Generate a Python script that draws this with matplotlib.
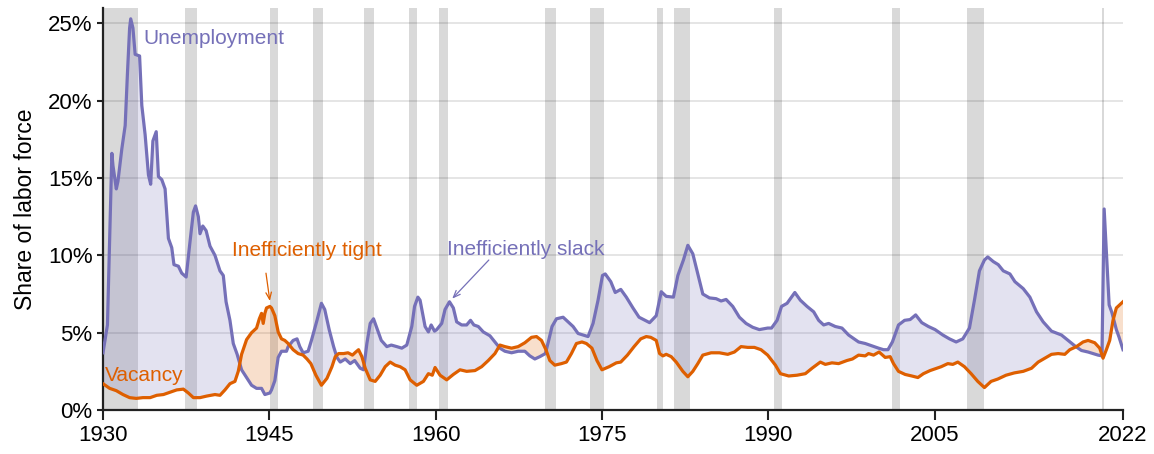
import numpy as np
import matplotlib
matplotlib.use("Agg")
import matplotlib.pyplot as plt

# unemployment rate, % of labor force (year, value)
unemployment = [
    (1930.0, 3.7), (1930.4, 5.5), (1930.8, 16.6), (1930.9, 15.8), (1931.2, 14.3), (1931.35, 14.8),
    (1931.7, 16.9), (1932.0, 18.4), (1932.2, 21.7), (1932.4, 24.7), (1932.5, 25.3), (1932.7, 24.7),
    (1932.9, 23.0), (1933.3, 22.9), (1933.5, 19.7), (1933.8, 17.8), (1934.1, 15.2), (1934.3, 14.6),
    (1934.5, 17.4), (1934.8, 18.0), (1935.0, 15.1), (1935.3, 14.9), (1935.6, 14.3), (1935.9, 11.1),
    (1936.2, 10.5), (1936.4, 9.4), (1936.8, 9.3), (1937.1, 8.85), (1937.5, 8.6), (1937.85, 10.9),
    (1938.15, 12.8), (1938.35, 13.2), (1938.6, 12.5), (1938.75, 11.4), (1939.0, 11.9), (1939.3, 11.6),
    (1939.65, 10.6), (1940.1, 10.0), (1940.55, 9.0), (1940.85, 8.7), (1941.1, 7.0), (1941.45, 5.8),
    (1941.75, 4.3), (1942.1, 3.6), (1942.5, 2.6), (1942.95, 2.1), (1943.4, 1.6), (1943.85, 1.4),
    (1944.3, 1.4), (1944.6, 1.0), (1945.05, 1.1), (1945.2, 1.3), (1945.5, 1.9), (1945.8, 3.4),
    (1946.1, 3.8), (1946.55, 3.8), (1946.7, 4.1), (1947.15, 4.5), (1947.5, 4.6), (1947.75, 4.1),
    (1948.05, 3.7), (1948.5, 3.8), (1948.8, 4.5), (1949.3, 5.8), (1949.7, 6.9), (1950.0, 6.5),
    (1950.4, 5.2), (1950.8, 4.1), (1951.1, 3.4), (1951.4, 3.1), (1951.85, 3.3), (1952.3, 3.0),
    (1952.7, 3.2), (1953.2, 2.7), (1953.5, 2.6), (1953.8, 4.3), (1954.1, 5.6), (1954.4, 5.9),
    (1954.7, 5.3), (1955.1, 4.5), (1955.6, 4.1), (1956.0, 4.2), (1956.5, 4.1), (1956.95, 4.0),
    (1957.4, 4.2), (1957.85, 5.4), (1958.1, 6.7), (1958.4, 7.3), (1958.6, 7.1), (1959.05, 5.4),
    (1959.35, 5.05), (1959.6, 5.5), (1959.9, 5.1), (1960.1, 5.2), (1960.55, 5.6), (1960.85, 6.5),
    (1961.25, 7.0), (1961.6, 6.6), (1961.9, 5.7), (1962.35, 5.5), (1962.8, 5.5), (1963.15, 5.8),
    (1963.45, 5.5), (1963.85, 5.4), (1964.3, 5.05), (1964.9, 4.8), (1965.35, 4.4), (1965.8, 4.0),
    (1966.25, 3.8), (1966.85, 3.7), (1967.45, 3.8), (1968.05, 3.8), (1968.5, 3.5), (1968.95, 3.3),
    (1969.4, 3.45), (1969.9, 3.65), (1970.2, 4.5), (1970.5, 5.4), (1970.9, 5.9), (1971.5, 6.0),
    (1971.95, 5.7), (1972.4, 5.4), (1972.85, 4.95), (1973.3, 4.85), (1973.75, 4.75), (1974.2, 5.6),
    (1974.65, 7.1), (1975.05, 8.7), (1975.3, 8.8), (1975.8, 8.3), (1976.2, 7.6), (1976.7, 7.8),
    (1977.2, 7.3), (1977.8, 6.6), (1978.35, 6.0), (1979.3, 5.65), (1979.9, 6.1), (1980.35, 7.65),
    (1980.8, 7.35), (1981.45, 7.3), (1981.85, 8.7), (1982.35, 9.7), (1982.75, 10.65), (1983.2, 10.1),
    (1983.65, 8.8), (1984.1, 7.5), (1984.7, 7.25), (1985.3, 7.2), (1985.75, 7.05), (1986.2, 7.15),
    (1986.8, 6.7), (1987.4, 6.0), (1988.0, 5.6), (1988.6, 5.35), (1989.2, 5.2), (1989.95, 5.3),
    (1990.3, 5.3), (1990.8, 5.8), (1991.2, 6.7), (1991.7, 6.9), (1992.4, 7.6), (1992.9, 7.1),
    (1993.5, 6.7), (1994.1, 6.35), (1994.55, 5.8), (1995.0, 5.5), (1995.45, 5.6), (1996.05, 5.4),
    (1996.65, 5.3), (1997.25, 4.85), (1998.15, 4.4), (1998.75, 4.3), (1999.35, 4.15), (1999.95, 4.0),
    (2000.4, 3.9), (2000.8, 3.9), (2001.2, 4.4), (2001.75, 5.5), (2002.3, 5.8), (2002.8, 5.85),
    (2003.3, 6.15), (2003.85, 5.65), (2004.45, 5.4), (2005.05, 5.2), (2005.75, 4.85), (2006.35, 4.6),
    (2006.95, 4.4), (2007.55, 4.6), (2008.15, 5.3), (2008.6, 7.1), (2009.05, 9.0), (2009.5, 9.7),
    (2009.8, 9.9), (2010.3, 9.6), (2010.75, 9.4), (2011.2, 9.0), (2011.8, 8.8), (2012.25, 8.3),
    (2013.0, 7.85), (2013.6, 7.3), (2014.2, 6.35), (2014.8, 5.7), (2015.55, 5.1), (2016.45, 4.85),
    (2017.05, 4.5), (2017.65, 4.15), (2018.25, 3.85), (2018.85, 3.75), (2019.3, 3.65), (2019.75, 3.55),
    (2020.1, 3.5), (2020.3, 13.0), (2020.75, 6.8), (2021.0, 6.3), (2021.4, 5.2), (2021.65, 4.7),
    (2022.0, 3.9),
]

# job vacancy rate, % of labor force (year, value)
vacancy = [
    (1930.0, 1.7), (1930.6, 1.4), (1931.2, 1.25), (1931.8, 1.0), (1932.4, 0.8), (1933.0, 0.75),
    (1933.6, 0.8), (1934.25, 0.8), (1934.85, 0.95), (1935.45, 1.0), (1936.05, 1.15), (1936.65, 1.3),
    (1937.25, 1.35), (1937.7, 1.1), (1938.15, 0.8), (1938.75, 0.8), (1939.35, 0.9), (1940.1, 1.0),
    (1940.55, 0.95), (1941.0, 1.3), (1941.45, 1.7), (1941.9, 1.85), (1942.2, 2.5), (1942.5, 3.6),
    (1942.95, 4.55), (1943.4, 5.0), (1943.85, 5.3), (1944.1, 5.9), (1944.3, 6.25), (1944.45, 5.6),
    (1944.6, 6.25), (1944.75, 6.6), (1945.05, 6.7), (1945.2, 6.6), (1945.5, 6.1), (1945.8, 5.05),
    (1946.1, 4.6), (1946.4, 4.5), (1946.7, 4.3), (1947.15, 3.9), (1947.6, 3.65), (1948.05, 3.55),
    (1948.4, 3.3), (1948.75, 3.0), (1949.2, 2.25), (1949.7, 1.6), (1950.2, 2.05), (1950.65, 2.8),
    (1950.95, 3.45), (1951.25, 3.65), (1951.7, 3.65), (1952.1, 3.7), (1952.5, 3.55), (1952.8, 3.75),
    (1953.05, 3.9), (1953.35, 3.45), (1953.65, 2.7), (1954.1, 1.95), (1954.55, 1.85), (1955.0, 2.25),
    (1955.45, 2.8), (1955.9, 3.1), (1956.35, 2.9), (1956.8, 2.8), (1957.25, 2.6), (1957.7, 1.95),
    (1958.3, 1.6), (1958.9, 1.85), (1959.35, 2.35), (1959.7, 2.25), (1959.95, 2.75), (1960.4, 2.25),
    (1961.0, 1.95), (1961.6, 2.3), (1962.2, 2.6), (1962.8, 2.5), (1963.55, 2.55), (1964.15, 2.8),
    (1964.75, 3.2), (1965.35, 3.65), (1965.8, 4.2), (1966.25, 4.1), (1966.85, 4.0), (1967.45, 4.1),
    (1968.05, 4.35), (1968.65, 4.7), (1969.1, 4.75), (1969.55, 4.5), (1969.95, 3.9), (1970.3, 3.2),
    (1970.75, 2.9), (1971.35, 3.0), (1971.8, 3.1), (1972.25, 3.65), (1972.7, 4.3), (1973.2, 4.4),
    (1973.6, 4.3), (1974.1, 4.0), (1974.55, 3.2), (1975.0, 2.6), (1975.65, 2.8), (1976.3, 3.05),
    (1976.7, 3.1), (1977.3, 3.55), (1977.9, 4.1), (1978.5, 4.6), (1979.0, 4.75), (1979.4, 4.7),
    (1979.9, 4.5), (1980.2, 3.65), (1980.5, 3.5), (1980.8, 3.6), (1981.25, 3.45), (1981.7, 3.1),
    (1982.3, 2.5), (1982.75, 2.15), (1983.2, 2.5), (1983.65, 3.0), (1984.1, 3.55), (1984.85, 3.7),
    (1985.6, 3.7), (1986.35, 3.6), (1986.95, 3.75), (1987.55, 4.1), (1988.15, 4.05), (1988.75, 4.05),
    (1989.35, 3.9), (1989.95, 3.55), (1990.65, 2.9), (1991.1, 2.35), (1991.85, 2.2), (1992.6, 2.25),
    (1993.35, 2.35), (1993.95, 2.7), (1994.7, 3.1), (1995.15, 2.95), (1995.75, 3.05), (1996.35, 3.0),
    (1997.1, 3.2), (1997.6, 3.3), (1998.15, 3.55), (1998.75, 3.5), (1999.05, 3.65), (1999.5, 3.55),
    (2000.0, 3.75), (2000.55, 3.4), (2001.0, 3.45), (2001.3, 3.0), (2001.75, 2.5), (2002.35, 2.3),
    (2002.95, 2.2), (2003.5, 2.1), (2004.0, 2.35), (2004.6, 2.55), (2005.2, 2.7), (2005.6, 2.8),
    (2006.2, 3.0), (2006.65, 2.95), (2007.1, 3.1), (2007.7, 2.8), (2008.3, 2.35), (2008.9, 1.85),
    (2009.5, 1.45), (2010.1, 1.85), (2010.7, 2.0), (2011.45, 2.25), (2012.2, 2.4), (2013.0, 2.5),
    (2013.75, 2.7), (2014.35, 3.1), (2014.95, 3.35), (2015.55, 3.6), (2016.15, 3.65), (2016.75, 3.6),
    (2017.2, 3.9), (2017.8, 4.1), (2018.4, 4.4), (2018.85, 4.5), (2019.45, 4.35), (2019.9, 4.0),
    (2020.2, 3.35), (2020.5, 3.9), (2020.8, 4.5), (2021.1, 5.8), (2021.4, 6.6), (2021.85, 6.9),
    (2022.0, 7.0),
]

# NBER recessions (start, end)
recessions = [
    (1929.67, 1933.2), (1937.4, 1938.45), (1945.1, 1945.8), (1948.9, 1949.8), (1953.5, 1954.4),
    (1957.6, 1958.3), (1960.3, 1961.1), (1969.9, 1970.9), (1973.9, 1975.2), (1980.0, 1980.5),
    (1981.5, 1982.9), (1990.5, 1991.2), (2001.2, 2001.9), (2007.9, 2009.5), (2020.1, 2020.3),
]

x_ticks = [1930, 1945, 1960, 1975, 1990, 2005, 2022]
y_ticks = [0, 5, 10, 15, 20, 25]

purple = "#7570b8"
orange = "#de5f00"

plt.rcParams['font.family'] = ['Liberation Sans', 'DejaVu Sans']

u_year, u_val = np.array(unemployment).T
v_year, v_val = np.array(vacancy).T

fig = plt.figure(figsize=(11.54, 4.54), dpi=100)
ax = fig.add_axes([103 / 1154, 44 / 454, 1020 / 1154, 402 / 454])

for start, end in recessions:
    ax.axvspan(start, end, color="#d9d9d9", lw=0, zorder=0)

for y in y_ticks:
    ax.axhline(y, color="black", alpha=0.12, lw=1.2, zorder=1)

# common grid for the shaded gap between the two lines
grid = np.union1d(u_year, v_year)
u_g = np.interp(grid, u_year, u_val)
v_g = np.interp(grid, v_year, v_val)
ax.fill_between(grid, u_g, v_g, where=u_g >= v_g, interpolate=True,
                color=purple, alpha=0.2, lw=0, zorder=2)
ax.fill_between(grid, u_g, v_g, where=v_g >= u_g, interpolate=True,
                color=orange, alpha=0.2, lw=0, zorder=2)

ax.plot(u_year, u_val, color=purple, lw=2.3, zorder=3, solid_joinstyle="round")
ax.plot(v_year, v_val, color=orange, lw=2.3, zorder=4, solid_joinstyle="round")

ax.text(1933.6, 24.0, "Unemployment", color=purple, fontsize=15, va="center")
ax.text(1930.2, 2.2, "Vacancy", color=orange, fontsize=15, va="center")
ax.text(1941.6, 10.3, "Inefficiently tight", color=orange, fontsize=15, va="center")
ax.text(1961.0, 10.4, "Inefficiently slack", color=purple, fontsize=15, va="center")

arrow = dict(arrowstyle="->,head_length=0.5,head_width=0.2", lw=0.9,
             shrinkA=0, shrinkB=0)
ax.annotate("", xy=(1945.05, 7.05), xytext=(1944.7, 8.85),
            arrowprops=dict(arrow, color=orange))
ax.annotate("", xy=(1961.5, 7.2), xytext=(1964.8, 9.7),
            arrowprops=dict(arrow, color=purple))

ax.set_xlim(1930, 2022)
ax.set_ylim(0, 26)
ax.set_xticks(x_ticks)
ax.set_yticks(y_ticks)
ax.set_yticklabels([f"{y}%" for y in y_ticks])
ax.tick_params(axis="both", labelsize=16, width=1.5, color="#222222")
ax.tick_params(axis="x", length=7)
ax.tick_params(axis="y", length=4)
ax.set_ylabel("Share of labor force", fontsize=16.5, labelpad=8)

for side in ["top", "right"]:
    ax.spines[side].set_visible(False)
for side in ["left", "bottom"]:
    ax.spines[side].set_linewidth(1.6)
    ax.spines[side].set_color("#222222")

fig.savefig("out.png", dpi=100)
